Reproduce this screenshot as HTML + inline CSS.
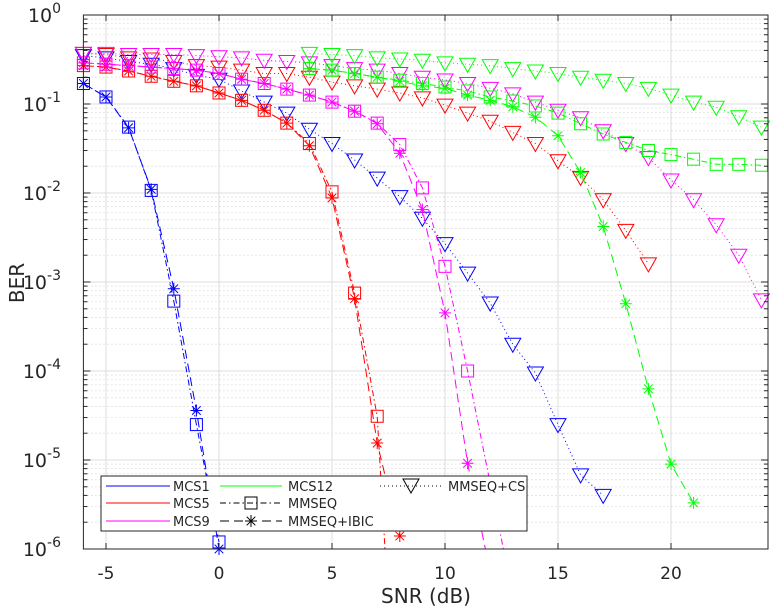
<!DOCTYPE html>
<html><head><meta charset="utf-8"><style>
html,body{margin:0;padding:0;background:#fff;width:772px;height:611px;overflow:hidden;}
svg{display:block;font-family:"DejaVu Sans","Liberation Sans",sans-serif;overflow:hidden;}
</style></head><body>
<svg id="chart" width="772" height="611" viewBox="0 0 772 611" xmlns="http://www.w3.org/2000/svg"></svg>
<script>
// ---- data ----
const xTicks = [-5, 0, 5, 10, 15, 20];
const yTickExp = [0, -1, -2, -3, -4, -5, -6];
const snrA = [-6, -5, -4, -3, -2, -1, 0];
const mcs1Mmseq = [0.17, 0.12, 0.055, 0.0107, 6.1e-4, 2.5e-5, 1.2e-6];
const mcs1Ibic = [0.17, 0.12, 0.054, 0.011, 8.4e-4, 3.6e-5, 1.0e-6];
const snrCs1 = [-6,-5,-4,-3,-2,-1,0,1,2,3,4,5,6,7,8,9,10,11,12,13,14,15,16,17];
const mcs1Cs = [0.35,0.33,0.30,0.28,0.25,0.21,0.19,0.14,0.105,0.079,0.052,0.036,0.0235,0.0147,0.0091,0.0052,0.0027,0.00126,5.8e-4,2.0e-4,9.5e-5,2.5e-5,6.8e-6,4.0e-6];
const snr5a = [-6,-5,-4,-3,-2,-1,0,1,2,3,4,5,6,7,8];
const mcs5Mmseq = [0.27,0.26,0.235,0.205,0.18,0.16,0.133,0.11,0.085,0.061,0.036,0.0103,7.5e-4,3.1e-5,1.5e-9];
const snr5b = [-6,-5,-4,-3,-2,-1,0,1,2,3,4,5,6,7,8];
const mcs5Ibic = [0.27,0.26,0.235,0.205,0.18,0.16,0.133,0.11,0.085,0.061,0.034,0.0088,6.5e-4,1.55e-5,1.4e-6];
const snrCs5 = [-6,-5,-4,-3,-2,-1,0,1,2,3,4,5,6,7,8,9,10,11,12,13,14,15,16,17,18,19];
const mcs5Cs = [0.37,0.36,0.33,0.32,0.30,0.27,0.26,0.24,0.22,0.22,0.2,0.176,0.16,0.147,0.133,0.117,0.097,0.079,0.064,0.048,0.036,0.023,0.015,0.0084,0.0038,0.0016];
const snr9a = [-6,-5,-4,-3,-2,-1,0,1,2,3,4,5,6,7,8,9,10,11,13];
const mcs9Mmseq = [0.29,0.28,0.27,0.26,0.25,0.24,0.22,0.19,0.17,0.147,0.126,0.105,0.083,0.061,0.035,0.0114,0.0015,1.0e-4,3e-7];
const snr9b = [-6,-5,-4,-3,-2,-1,0,1,2,3,4,5,6,7,8,9,10,11,12];
const mcs9Ibic = [0.29,0.28,0.27,0.26,0.25,0.24,0.22,0.19,0.17,0.147,0.126,0.105,0.083,0.06,0.028,0.0065,4.5e-4,9.2e-6,5.5e-7];
const snrCs9 = [-6,-5,-4,-3,-2,-1,0,1,2,3,4,5,6,7,8,9,10,11,12,13,14,15,16,17,18,19,20,21,22,23,24];
const mcs9Cs = [0.37,0.37,0.36,0.36,0.36,0.35,0.34,0.33,0.31,0.30,0.29,0.27,0.25,0.24,0.22,0.20,0.186,0.17,0.15,0.13,0.105,0.085,0.07,0.05,0.036,0.025,0.014,0.0084,0.0044,0.002,6.3e-4];
const snr12 = [4,5,6,7,8,9,10,11,12,13,14,15,16,17,18,19,20,21,22,23,24];
const mcs12Mmseq = [0.25,0.24,0.22,0.2,0.185,0.17,0.155,0.14,0.12,0.108,0.095,0.079,0.06,0.046,0.037,0.03,0.027,0.024,0.021,0.021,0.0205];
const snr12b = [4,5,6,7,8,9,10,11,12,13,14,15,16,17,18,19,20,21];
const mcs12Ibic = [0.25,0.24,0.22,0.2,0.18,0.16,0.15,0.126,0.11,0.093,0.071,0.044,0.017,0.0042,5.7e-4,6.3e-5,9e-6,3.3e-6];
const mcs12Cs = [0.37,0.36,0.35,0.33,0.32,0.31,0.29,0.28,0.27,0.25,0.235,0.22,0.2,0.185,0.17,0.15,0.126,0.105,0.092,0.072,0.055];

// ---- axes ----
const NS = "http://www.w3.org/2000/svg";
const svg = document.getElementById('chart');
const L = 83.4, R = 768, T = 15, B = 549;
const xMin = -6, pxPerDb = 22.6;
function sx(v){ return L + (v - xMin) * pxPerDb; }
function sy(v){ return T + (-Math.log10(v)) * (B - T) / 6; }
function mk(tag, attrs, parent){
  const e = document.createElementNS(NS, tag);
  for (const k in attrs) e.setAttribute(k, attrs[k]);
  (parent || svg).appendChild(e);
  return e;
}

// grid
const grid = mk('g', {});


for (let e = 0; e > -6; e--) {
  for (let m = 2; m <= 9; m++) {
    const y = sy(m * Math.pow(10, e - 1));
    mk('line', {x1:L, x2:R, y1:y, y2:y, stroke:'#c8c8c8', 'stroke-width':0.8, 'stroke-dasharray':'1,3'}, grid);
  }
}
yTickExp.forEach(e => {
  const y = sy(Math.pow(10, e));
  mk('line', {x1:L, x2:R, y1:y, y2:y, stroke:'#dcdcdc', 'stroke-width':1}, grid);
});
xTicks.forEach(t => {
  const x = sx(t);
  mk('line', {x1:x, x2:x, y1:T, y2:B, stroke:'#dcdcdc', 'stroke-width':1}, grid);
});

// series
const series = [
  ['mcs1-mmseq', snrA, mcs1Mmseq, '#0000ff', 'sq', '6,3,1.5,3'],
  ['mcs1-ibic', snrA, mcs1Ibic, '#0000ff', 'st', '9,5'],
  ['mcs1-cs', snrCs1, mcs1Cs, '#0000ff', 'tr', '1,3'],
  ['mcs5-mmseq', snr5a, mcs5Mmseq, '#ff0000', 'sq', '6,3,1.5,3'],
  ['mcs5-ibic', snr5b, mcs5Ibic, '#ff0000', 'st', '9,5'],
  ['mcs5-cs', snrCs5, mcs5Cs, '#ff0000', 'tr', '1,3'],
  ['mcs9-mmseq', snr9a, mcs9Mmseq, '#ff00ff', 'sq', '6,3,1.5,3'],
  ['mcs9-ibic', snr9b, mcs9Ibic, '#ff00ff', 'st', '9,5'],
  ['mcs9-cs', snrCs9, mcs9Cs, '#ff00ff', 'tr', '1,3'],
  ['mcs12-mmseq', snr12, mcs12Mmseq, '#00ff00', 'sq', '6,3,1.5,3'],
  ['mcs12-ibic', snr12b, mcs12Ibic, '#00ff00', 'st', '9,5'],
  ['mcs12-cs', snr12, mcs12Cs, '#00ff00', 'tr', '1,3'],
];

function marker(g, type, x, y, col){
  let m;
  if (type === 'sq') {
    m = mk('rect', {x:x-6, y:y-6, width:12, height:12, fill:'none', stroke:col, 'stroke-width':1}, g);
  } else if (type === 'tr') {
    m = mk('path', {d:`M${x-8},${y-6} L${x+8},${y-6} L${x},${y+8} Z`, fill:'none', stroke:col, 'stroke-width':1}, g);
  } else {
    m = mk('path', {d:`M${x-6},${y} L${x+6},${y} M${x},${y-6} L${x},${y+6} M${x-4.3},${y-4.3} L${x+4.3},${y+4.3} M${x-4.3},${y+4.3} L${x+4.3},${y-4.3}`, fill:'none', stroke:col, 'stroke-width':1}, g);
  }
  return m;
}

series.forEach(s => {
  const [name, xs, ys, col, mt, dash] = s;
  const g = mk('g', {});
  
  
  // build line points, truncating at bottom axis
  const P = [];
  for (let i = 0; i < xs.length; i++) {
    const x = sx(xs[i]), y = sy(ys[i]);
    if (y <= B) { P.push([x, y]); continue; }
    if (i > 0) {
      const px = sx(xs[i-1]), py = sy(ys[i-1]);
      if (py < B) { const t = (B - py) / (y - py); P.push([px + t * (x - px), B]); }
    }
    break;
  }
  const pts = P.map(p => p[0].toFixed(1) + ',' + p[1].toFixed(1)).join(' ');
  const pl = mk('polyline', {points:pts, fill:'none', stroke:col, 'stroke-width':1, 'stroke-dasharray':dash}, g);
  
  
  xs.forEach((x, i) => {
    const y = sy(ys[i]);
    if (y > B + 2) return;
    const m = marker(g, mt, sx(x), y, col);
    
    
  });
});

// axes box and ticks
const ax = mk('g', {});


mk('rect', {x:L, y:T, width:R-L, height:B-T, fill:'none', stroke:'#262626', 'stroke-width':1}, ax);
xTicks.forEach(t => {
  const x = sx(t);
  mk('line', {x1:x, x2:x, y1:B, y2:B-6, stroke:'#262626'}, ax);
  mk('line', {x1:x, x2:x, y1:T, y2:T+6, stroke:'#262626'}, ax);
  const tx = mk('text', {x:x, y:579, 'text-anchor':'middle', 'font-size':17, fill:'#262626'}, ax);
  tx.textContent = String(t);
  
  
});
for (let e = 0; e > -6; e--) {
  for (let m = 2; m <= 9; m++) {
    const y = sy(m * Math.pow(10, e - 1));
    mk('line', {x1:L, x2:L+4, y1:y, y2:y, stroke:'#262626'}, ax);
    mk('line', {x1:R, x2:R-4, y1:y, y2:y, stroke:'#262626'}, ax);
  }
}
yTickExp.forEach(e => {
  const y = sy(Math.pow(10, e));
  mk('line', {x1:L, x2:L+7, y1:y, y2:y, stroke:'#262626'}, ax);
  mk('line', {x1:R, x2:R-7, y1:y, y2:y, stroke:'#262626'}, ax);
  const tx = mk('text', {x:61, y:y+7, 'text-anchor':'end', 'font-size':19, fill:'#262626'}, ax);
  
  
  const b = mk('tspan', {}, tx); b.textContent = '10';
  const sup = mk('tspan', {dy:-9, 'font-size':14}, tx); sup.textContent = String(e);
});
const xl = mk('text', {x:426, y:603, 'text-anchor':'middle', 'font-size':20, fill:'#262626'});
xl.textContent = 'SNR (dB)';


const yl = mk('text', {x:0, y:0, 'text-anchor':'middle', 'font-size':20, fill:'#262626', transform:'translate(24,283) rotate(-90)'});
yl.textContent = 'BER';



// legend
const lg = mk('g', {});


mk('rect', {x:101, y:476, width:426, height:55, fill:'#fff', stroke:'#262626', 'stroke-width':1}, lg);
const legendItems = [
  [106,170,173,486,'#0000ff',null,null,'MCS1'],
  [106,170,173,503,'#ff0000',null,null,'MCS5'],
  [106,170,173,521,'#ff00ff',null,null,'MCS9'],
  [220,282,288,486,'#00ff00',null,null,'MCS12'],
  [220,282,288,503,'#000','sq','6,3,1.5,3','MMSEQ'],
  [220,282,288,521,'#000','st','9,5','MMSEQ+IBIC'],
  [380,442,448,486,'#000','tr','1,3','MMSEQ+CS'],
];
legendItems.forEach(it => {
  const [x1,x2,tx,y,col,mt,dash,label] = it;
  const g = mk('g', {}, lg);
  
  
  const ln = {x1:x1, x2:x2, y1:y, y2:y, stroke:col, 'stroke-width':1};
  if (dash) ln['stroke-dasharray'] = dash;
  mk('line', ln, g);
  if (mt) marker(g, mt, (x1+x2)/2, mt==='tr' ? y-1 : y, col);
  const t = mk('text', {x:tx, y:y+5, 'font-size':13, fill:'#262626'}, g);
  t.textContent = label;
});
</script>
</body></html>
